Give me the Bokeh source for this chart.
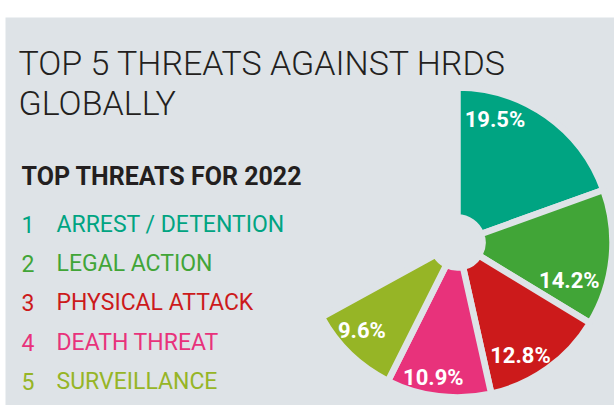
import numpy as np
from bokeh.plotting import figure
from bokeh.models import Range1d, ColumnDataSource
from bokeh.core.properties import value
from bokeh.embed import file_html
from bokeh.resources import INLINE

# ---- data ----
ranks = ["1", "2", "3", "4", "5"]
categories = ["ARREST / DETENTION", "LEGAL ACTION", "PHYSICAL ATTACK", "DEATH THREAT", "SURVEILLANCE"]
shares = [19.5, 14.2, 12.8, 10.9, 9.6]
share_labels = ["19.5%", "14.2%", "12.8%", "10.9%", "9.6%"]
colors = ["#00a482", "#41a537", "#cc1a1b", "#e8327b", "#96b526"]

title_lines = ["TOP 5 THREATS AGAINST HRDS", "GLOBALLY"]
subtitle = "TOP THREATS FOR 2022"

# ---- style / layout ----
BG = "#dee3e7"
W, H = 614, 405
cx, cy = 457, 163          # pie centre (data units == pixels)
r_in, r_out = 25, 155
label_frac = [0.24, 0.75, 0.64, 0.58, 0.60]   # position of label within wedge
label_rad = [129, 118, 129, 137, 130]

p = figure(width=W, height=H, output_backend="svg", toolbar_location=None,
           x_range=Range1d(5, 614), y_range=Range1d(0, 388),
           min_border_left=5, min_border_right=0, min_border_bottom=0, min_border_top=17,
           background_fill_color=BG, border_fill_color="white")
p.xaxis.visible = False
p.yaxis.visible = False
p.grid.visible = False
p.outline_line_color = None

vals = np.array(shares) / 100.0
cum = np.cumsum(vals)
start_frac = cum - vals
start = np.pi / 2 - 2 * np.pi * start_frac
end = np.pi / 2 - 2 * np.pi * cum

src = ColumnDataSource(dict(start=start, end=end, color=colors))
p.annular_wedge(x=cx, y=cy, inner_radius=r_in, outer_radius=r_out,
                start_angle="start", end_angle="end", direction="clock",
                fill_color="color", line_color=BG, line_width=6.5, source=src)

theta = start + np.array(label_frac) * (end - start)
lx = cx + np.array(label_rad) * np.cos(theta)
ly = cy + np.array(label_rad) * np.sin(theta)
p.text(x=lx, y=ly, text=share_labels, text_color="white", text_font=value("Roboto"),
       text_font_style="bold", text_font_size="22px", text_align="center",
       text_baseline="middle")

# title
p.text(x=[18, 18], y=[343, 303], text=title_lines, text_color="#231f20",
       text_font=value("Roboto Light"), text_font_size="34px",
       text_align="left", text_baseline="alphabetic")
p.text(x=[21], y=[229], text=[subtitle], text_color="#231f20",
       text_font=value("Roboto"), text_font_style="bold", text_font_size="25px",
       text_align="left", text_baseline="alphabetic")

# legend list
row_y = [181 - i * 39.2 for i in range(len(categories))]
leg = ColumnDataSource(dict(y=row_y, rank=ranks, cat=categories, color=colors))
p.text(x=21, y="y", text="rank", text_color="color", source=leg,
       text_font=value("Roboto"), text_font_size="23px",
       text_align="left", text_baseline="alphabetic")
p.text(x=56, y="y", text="cat", text_color="color", source=leg,
       text_font=value("Roboto"), text_font_size="23px",
       text_align="left", text_baseline="alphabetic")

open("out.html", "w").write(file_html(p, INLINE))
